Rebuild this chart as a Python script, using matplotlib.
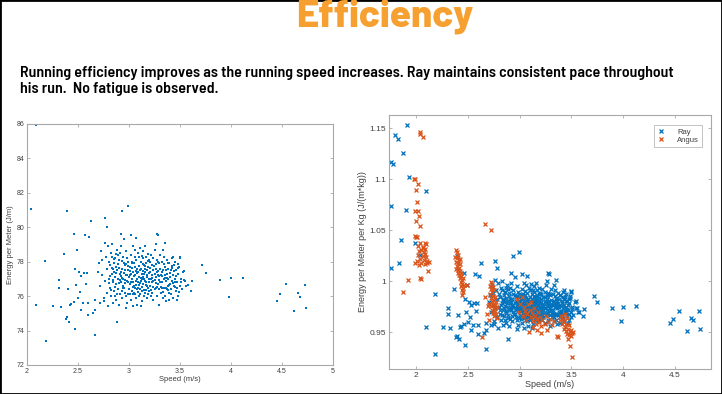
import matplotlib
matplotlib.use("Agg")
import matplotlib.pyplot as plt
from matplotlib.patches import Rectangle
import numpy as np

# Ray: speed (m/s) and energy per meter (J/m); Ray's body mass (kg) for the per-kg plot
ray_mass = 79.0
ray_outliers = [
    (1.91, 91.1), (1.79, 90.3), (1.82, 90.0), (1.87, 88.9), (1.76, 88.2), (1.77, 88.1),
    (1.93, 87.1), (1.76, 84.8), (1.90, 84.5), (1.855, 82.2), (1.99, 82.0), (1.83, 80.4),
    (1.76, 80.0), (2.09, 85.96), (2.04, 81.06), (2.39, 80.95), (2.99, 81.24), (2.935, 80.95),
    (2.63, 80.38), (2.76, 80.56), (2.78, 80.04), (2.46, 79.63), (2.565, 79.55), (2.61, 79.44),
    (2.92, 79.61), (3.02, 79.55), (3.27, 79.63), (3.28, 79.53), (3.35, 79.09), (2.49, 78.70),
    (2.36, 78.43), (2.18, 78.02), (2.47, 77.60), (2.51, 77.42), (2.56, 77.33), (2.59, 77.35),
    (2.53, 77.17), (2.31, 76.94), (2.31, 76.49), (2.48, 76.65), (2.58, 76.69), (2.40, 76.42),
    (2.09, 75.49), (2.255, 75.43), (2.33, 75.35), (2.42, 75.49), (2.43, 75.54), (2.52, 76.26),
    (2.46, 75.68), (2.50, 75.87), (2.55, 75.58), (2.60, 75.58), (2.53, 75.20), (2.60, 74.90),
    (2.65, 75.00), (2.67, 75.20), (2.67, 75.78), (2.75, 75.72), (2.39, 74.77), (2.38, 74.67),
    (2.415, 74.52), (2.47, 74.09), (2.67, 73.74), (2.885, 74.50), (2.185, 73.40),
    (3.72, 77.83), (3.75, 77.36), (3.89, 76.96), (4.00, 77.03), (4.12, 77.07), (3.98, 75.93),
    (4.54, 76.72), (4.73, 76.67), (4.48, 76.10), (4.66, 76.18), (4.68, 75.97), (4.45, 75.74),
    (4.74, 75.33), (4.62, 75.16), (3.50, 78.27), (3.62, 76.88), (3.61, 76.32), (3.575, 76.65),
    (3.54, 76.94), (3.54, 77.46),
]
ray_core = [
    (2.71, 77.9), (2.72, 76.6), (2.73, 78.6), (2.74, 77.2), (2.75, 75.9), (2.76, 79.1),
    (2.76, 76.9), (2.77, 78.3), (2.78, 77.6), (2.78, 76.2), (2.79, 78.9), (2.79, 75.4),
    (2.80, 77.0), (2.80, 78.0), (2.72, 75.6), (2.74, 78.1), (2.70, 77.4),
    (2.81, 76.5), (2.81, 77.8), (2.82, 78.5), (2.82, 76.0), (2.83, 77.3), (2.83, 79.0),
    (2.84, 76.8), (2.84, 75.6), (2.85, 77.9), (2.85, 76.3), (2.86, 78.2), (2.86, 77.1),
    (2.87, 76.7), (2.87, 75.8), (2.88, 77.5), (2.88, 78.7), (2.89, 76.4), (2.89, 77.0),
    (2.90, 78.1), (2.90, 75.5), (2.83, 78.3), (2.85, 77.4), (2.87, 77.7), (2.89, 78.4),
    (2.86, 76.0),
    (2.91, 77.3), (2.91, 76.1), (2.92, 78.9), (2.92, 76.8), (2.93, 77.6), (2.93, 75.9),
    (2.94, 78.3), (2.94, 77.0), (2.95, 76.5), (2.95, 79.3), (2.96, 77.8), (2.96, 76.2),
    (2.97, 77.2), (2.97, 78.6), (2.98, 76.9), (2.98, 75.6), (2.99, 77.5), (2.99, 78.0),
    (3.00, 76.4), (3.00, 77.1), (2.92, 77.4), (2.94, 76.6), (2.96, 77.5), (2.98, 78.2),
    (2.93, 76.3), (2.95, 77.9), (2.97, 76.0), (2.99, 76.8), (2.91, 78.5), (2.97, 75.3),
    (3.01, 77.7), (3.01, 76.7), (3.02, 78.4), (3.02, 75.8), (3.03, 77.0), (3.03, 76.3),
    (3.04, 78.9), (3.04, 77.4), (3.05, 76.6), (3.05, 77.9), (3.06, 76.1), (3.06, 77.2),
    (3.07, 78.1), (3.07, 76.9), (3.08, 77.6), (3.08, 75.5), (3.09, 76.5), (3.09, 78.5),
    (3.10, 77.1), (3.10, 76.0), (3.02, 77.3), (3.04, 76.8), (3.06, 77.7), (3.08, 77.0),
    (3.03, 78.0), (3.05, 76.2), (3.07, 75.9), (3.09, 77.4), (3.01, 76.1), (3.06, 78.7),
    (3.08, 76.4), (3.10, 78.3), (3.04, 75.4), (3.07, 79.4),
    (3.11, 77.5), (3.11, 76.4), (3.12, 78.0), (3.12, 76.9), (3.13, 77.3), (3.13, 75.7),
    (3.14, 78.6), (3.14, 76.7), (3.15, 77.0), (3.15, 77.8), (3.16, 76.2), (3.16, 77.4),
    (3.17, 78.3), (3.17, 76.8), (3.18, 77.1), (3.18, 75.9), (3.19, 77.7), (3.19, 76.5),
    (3.20, 78.1), (3.20, 77.0), (3.12, 77.6), (3.14, 77.1), (3.16, 76.9), (3.18, 77.5),
    (3.11, 78.8), (3.13, 76.3), (3.15, 76.0), (3.17, 77.9), (3.19, 76.1), (3.12, 75.4),
    (3.14, 78.2), (3.16, 78.9), (3.18, 76.6), (3.20, 76.3), (3.15, 77.3), (3.13, 77.0),
    (3.21, 77.4), (3.21, 76.6), (3.22, 78.4), (3.22, 77.0), (3.23, 76.2), (3.23, 77.8),
    (3.24, 76.9), (3.24, 75.8), (3.25, 77.3), (3.25, 78.7), (3.26, 76.5), (3.26, 77.6),
    (3.27, 78.1), (3.27, 76.0), (3.28, 77.2), (3.28, 76.7), (3.29, 77.9), (3.29, 75.5),
    (3.30, 76.8), (3.30, 78.4), (3.22, 76.0), (3.24, 77.5), (3.26, 77.1), (3.28, 78.0),
    (3.21, 78.0), (3.23, 76.8), (3.25, 76.4), (3.27, 77.4), (3.29, 76.4), (3.26, 79.0),
    (3.24, 78.2),
    (3.31, 77.2), (3.31, 76.2), (3.32, 78.0), (3.32, 76.8), (3.33, 77.5), (3.33, 75.9),
    (3.34, 77.0), (3.34, 78.3), (3.35, 76.5), (3.35, 77.7), (3.36, 76.9), (3.36, 75.7),
    (3.37, 77.3), (3.37, 78.1), (3.38, 76.6), (3.38, 77.6), (3.39, 76.2), (3.39, 77.9),
    (3.40, 77.1), (3.40, 76.7), (3.32, 77.4), (3.34, 76.5), (3.36, 77.5), (3.38, 77.0),
    (3.33, 78.7), (3.35, 76.0), (3.37, 76.4), (3.39, 75.8),
    (3.41, 77.5), (3.41, 76.4), (3.42, 78.2), (3.42, 76.9), (3.43, 77.2), (3.43, 75.9),
    (3.44, 77.8), (3.44, 76.6), (3.45, 77.0), (3.45, 78.0), (3.46, 76.3), (3.46, 77.5),
    (3.47, 76.8), (3.48, 77.3), (3.48, 76.0), (3.49, 77.7), (3.50, 76.6), (3.50, 78.2),
    (3.51, 77.0), (3.52, 76.4), (3.53, 77.4), (3.55, 76.9), (3.56, 76.6), (3.47, 75.8),
    (3.43, 78.3),
]
ray_core_dense = [
    (2.905, 77.65), (2.915, 76.95), (2.925, 77.15), (2.935, 78.05), (2.945, 76.45),
    (2.955, 77.35), (2.965, 76.75), (2.975, 77.85), (2.985, 77.25), (2.995, 76.15),
    (3.005, 77.45), (3.015, 76.85), (3.025, 77.95), (3.035, 76.55), (3.045, 77.15),
    (3.055, 78.25), (3.065, 76.65), (3.075, 77.35), (3.085, 76.25), (3.095, 77.75),
    (3.105, 76.75), (3.115, 77.05), (3.125, 76.55), (3.135, 77.85), (3.145, 76.35),
    (3.155, 77.55), (3.165, 76.65), (3.175, 77.25), (3.185, 78.05), (3.195, 76.85),
    (3.205, 77.65), (3.215, 76.35), (3.225, 77.25), (3.235, 76.55), (3.245, 77.75),
    (3.255, 76.95), (3.265, 77.85), (3.275, 76.55), (3.285, 77.45), (3.295, 76.95),
    (3.305, 77.55), (3.315, 76.55), (3.325, 77.15), (3.335, 76.25), (3.345, 77.85),
    (3.355, 77.25), (3.365, 76.45), (3.375, 77.05), (3.385, 77.95), (3.395, 76.65),
    (3.405, 77.35), (3.415, 76.15), (3.425, 77.65), (3.435, 76.75), (3.445, 77.45),
    (3.455, 76.85), (3.465, 77.15), (3.475, 76.45), (3.485, 77.85), (3.495, 76.25),
    (2.815, 77.15), (2.825, 76.35), (2.835, 77.65), (2.845, 76.95), (2.855, 78.15),
    (2.865, 76.55), (2.875, 77.35), (2.885, 76.15), (2.895, 77.85), (2.805, 76.75),
    (3.11, 76.15), (3.14, 77.45), (3.17, 76.35), (3.20, 77.35), (3.23, 77.05),
    (3.26, 76.75), (3.29, 77.15), (3.32, 76.45), (3.35, 77.05), (3.38, 76.35),
    (3.03, 77.65), (3.06, 76.45), (3.09, 76.85), (3.01, 77.25), (3.04, 76.15),
    (3.07, 77.45), (3.10, 76.65), (3.13, 78.35), (3.16, 77.75), (3.19, 78.45),
    (2.96, 76.95), (2.99, 77.75), (2.93, 77.05), (2.90, 76.75), (2.87, 78.45),
    (2.84, 77.55), (3.42, 77.75), (3.45, 76.55), (3.48, 77.65), (3.51, 76.85),
]

# Angus: speed (m/s) and energy per meter per kg (J/(m*kg))
angus_points = [
    (2.035, 1.146), (2.04, 1.144), (2.065, 1.141), (1.98, 1.100), (1.99, 1.100), (2.02, 1.095),
    (2.00, 1.089), (2.01, 1.078), (1.99, 1.069), (2.02, 1.069), (2.00, 1.059), (2.03, 1.064),
    (2.04, 1.054), (1.99, 1.044), (2.00, 1.043), (2.01, 1.043), (2.04, 1.038), (2.08, 1.038),
    (2.02, 1.035), (2.06, 1.033), (2.09, 1.037), (2.03, 1.030), (2.05, 1.031), (2.07, 1.029),
    (2.08, 1.027), (2.02, 1.026), (2.06, 1.025), (2.09, 1.024), (2.04, 1.022), (2.07, 1.021),
    (2.10, 1.020), (2.12, 1.019), (2.01, 1.020), (2.05, 1.018), (2.08, 1.017), (1.99, 1.018),
    (2.03, 1.016), (2.10, 1.018), (2.11, 1.010), (2.04, 1.003), (2.05, 1.002), (1.92, 1.001),
    (1.875, 0.989), (2.06, 1.034), (2.08, 1.032),
    (2.38, 1.031), (2.39, 1.029), (2.40, 1.026), (2.37, 1.024), (2.39, 1.023), (2.41, 1.021),
    (2.38, 1.019), (2.40, 1.018), (2.42, 1.017), (2.39, 1.015), (2.41, 1.013), (2.40, 1.011),
    (2.42, 1.010), (2.43, 1.008), (2.41, 1.006), (2.43, 1.005), (2.42, 1.003), (2.44, 1.001),
    (2.43, 0.999), (2.44, 0.997), (2.43, 0.995), (2.45, 0.993), (2.44, 0.991), (2.45, 0.989),
    (2.44, 0.987), (2.46, 0.996), (2.40, 1.008), (2.42, 1.022), (2.38, 1.012), (2.45, 1.003),
    (2.49, 0.996),
    (2.72, 0.999), (2.73, 0.997), (2.71, 0.995), (2.74, 0.994), (2.72, 0.992), (2.75, 0.991),
    (2.73, 0.989), (2.71, 0.988), (2.74, 0.986), (2.76, 0.985), (2.72, 0.984), (2.75, 0.982),
    (2.73, 0.981), (2.77, 0.980), (2.74, 0.978), (2.76, 0.977), (2.72, 0.976), (2.75, 0.974),
    (2.78, 0.975), (2.73, 0.972), (2.76, 0.971), (2.74, 0.969), (2.77, 0.968), (2.75, 0.966),
    (2.78, 0.964), (2.70, 0.978), (2.69, 0.976), (2.68, 0.968), (2.66, 0.985), (2.70, 0.962),
    (2.64, 0.945), (2.66, 1.056), (2.72, 1.050),
    (2.97, 0.983), (3.00, 0.978), (3.02, 0.985), (3.04, 0.975), (3.05, 0.971), (3.07, 0.968),
    (3.08, 0.978), (3.10, 0.972), (3.11, 0.965), (3.12, 0.969), (3.13, 0.961), (3.14, 0.974),
    (3.15, 0.966), (3.16, 0.958), (3.17, 0.963), (3.18, 0.970), (3.19, 0.960), (3.20, 0.965),
    (3.21, 0.956), (3.22, 0.962), (3.24, 0.958), (3.25, 0.966), (3.27, 0.960), (3.29, 0.963),
    (3.31, 0.957), (3.33, 0.961), (3.09, 0.950), (3.21, 0.949), (3.36, 0.946), (3.37, 0.945),
    (3.06, 0.962), (3.13, 0.955), (3.03, 0.966), (2.99, 0.970), (3.17, 0.952), (3.26, 0.952),
    (3.11, 0.980),
    (3.40, 0.966), (3.42, 0.963), (3.44, 0.968), (3.43, 0.960), (3.45, 0.958), (3.46, 0.964),
    (3.44, 0.955), (3.47, 0.953), (3.45, 0.951), (3.48, 0.957), (3.49, 0.950), (3.46, 0.948),
    (3.50, 0.952), (3.51, 0.949), (3.52, 0.950), (3.48, 0.947), (3.47, 0.943), (3.49, 0.937),
    (3.505, 0.926), (3.41, 0.958), (3.43, 0.953), (3.39, 0.962), (3.50, 0.946),
]

title = "Efficiency"
subtitle_lines = ["Running efficiency improves as the running speed increases. Ray maintains consistent pace throughout",
                  "his run.  No fatigue is observed."]

ray = np.array(ray_outliers + ray_core + ray_core_dense)
ray_speed, ray_energy = ray[:, 0], ray[:, 1]
angus = np.array(angus_points)

blue = "#0072BD"
orange = "#D95319"
axis_grey = "#A8A8A8"
text_grey = "#404040"

plt.rcParams["font.family"] = ["Liberation Sans", "DejaVu Sans"]

fig = plt.figure(figsize=(7.22, 3.94), dpi=100)
fig.patches.append(Rectangle((0, 0), 1, 1, transform=fig.transFigure, fill=False,
                             edgecolor="black", linewidth=2))
renderer = fig.canvas.get_renderer()


def fit_width(txt, target_px):
    # shrink/grow a text so its width matches the slide's
    w = txt.get_window_extent(renderer).width
    txt.set_fontsize(txt.get_fontsize() * target_px / w)


t = fig.text(385 / 722, 1 - 27 / 394, title, ha="center", va="baseline", color="#F5A030",
             fontsize=26, fontweight="heavy", family=["Barlow", "Liberation Sans"])
fit_width(t, 177)

sub_font = ["Barlow Semi Condensed", "Liberation Sans"]
s1 = fig.text(20 / 722, 1 - 77 / 394, subtitle_lines[0], ha="left", va="baseline",
              color="black", fontsize=10, fontweight="semibold", family=sub_font)
fit_width(s1, 656)
s2 = fig.text(20 / 722, 1 - 93 / 394, subtitle_lines[1], ha="left", va="baseline",
              color="black", fontsize=s1.get_fontsize(), fontweight="semibold", family=sub_font)


def matlab_style(ax, fs):
    for s in ax.spines.values():
        s.set_color(axis_grey)
        s.set_linewidth(0.8)
    ax.tick_params(direction="in", length=2.5, width=0.6, colors=axis_grey,
                   labelcolor=text_grey, labelsize=fs, top=True, right=True, pad=2)


def fmt(v):
    return f"{v:g}"


# left: energy per meter
ax1 = fig.add_axes([27 / 722, 1 - 365 / 394, 306 / 722, 241 / 394])
ax1.scatter(ray_speed, ray_energy, s=3, marker="s", color=blue, linewidths=0)
ax1.set_xlim(2, 5)
ax1.set_ylim(72, 86)
ax1.set_xticks(np.arange(2, 5.01, 0.5))
ax1.set_xticklabels([fmt(v) for v in np.arange(2, 5.01, 0.5)])
ax1.set_yticks(np.arange(72, 86.1, 2))
ax1.set_xlabel("Speed (m/s)", fontsize=5.5, color=text_grey, labelpad=1)
ax1.set_ylabel("Energy per Meter (J/m)", fontsize=5.5, color=text_grey, labelpad=2)
matlab_style(ax1, 5)

# right: energy per meter per kg
ax2 = fig.add_axes([389 / 722, 1 - 369 / 394, 322 / 722, 254 / 394])
ax2.plot(ray_speed, ray_energy / ray_mass, "x", color=blue, markersize=3.4, mew=0.9, label="Ray")
ax2.plot(angus[:, 0], angus[:, 1], "x", color=orange, markersize=3.4, mew=0.9, label="Angus")
ax2.set_xlim(1.736, 4.85)
ax2.set_ylim(0.914, 1.163)
ax2.set_xticks(np.arange(2, 4.51, 0.5))
ax2.set_xticklabels([fmt(v) for v in np.arange(2, 4.51, 0.5)])
yt = [0.95, 1.0, 1.05, 1.1, 1.15]
ax2.set_yticks(yt)
ax2.set_yticklabels([fmt(v) for v in yt])
ax2.set_xlabel("Speed (m/s)", fontsize=6.5, color=text_grey, labelpad=1)
ax2.set_ylabel("Energy per Meter per Kg (J/(m*kg))", fontsize=6.5, color=text_grey, labelpad=2)
matlab_style(ax2, 6)
leg = ax2.legend(loc="upper right", fontsize=5.5, frameon=True, fancybox=False,
                 edgecolor=axis_grey, borderpad=0.4, handletextpad=1.5, handlelength=1.2,
                 labelspacing=0.1, bbox_to_anchor=(0.985, 0.975))
leg.get_frame().set_linewidth(0.6)
for t in leg.get_texts():
    t.set_color(text_grey)

fig.savefig("out.png", dpi=100)
